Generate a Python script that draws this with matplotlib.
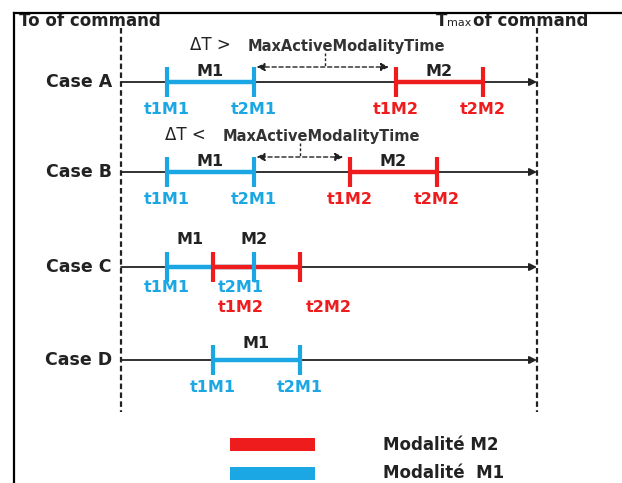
import matplotlib
matplotlib.use("Agg")
import matplotlib.pyplot as plt
from matplotlib.lines import Line2D
from matplotlib.patches import Rectangle

# ---------------- data (time units: T0 = 0, Tmax = 100) ----------------
cases = ["Case A", "Case B", "Case C", "Case D"]
m1_start = [11, 11, 11, 22]
m1_end = [32, 32, 32, 43]
m2_start = [66, 55, 22, None]
m2_end = [87, 76, 43, None]
t_min, t_max = 0, 100
legend_labels = ["Modalité M2", "Modalité  M1"]

BLUE = "#1aa7e4"
RED = "#ee1c1c"
DARK = "#222222"

W, H = 622, 483
fig = plt.figure(figsize=(W / 100, H / 100), dpi=100)
ax = fig.add_axes([0, 0, 1, 1])
ax.set_axis_off()

X0, X1 = 121, 537          # pixel positions of T0 and Tmax
scale = (X1 - X0) / (t_max - t_min)
ax.set_xlim((0 - X0) / scale, (W - X0) / scale)
ax.set_ylim(H, 0)


def px(x):
    """pixel x -> data x (for placing annotations)"""
    return (x - X0) / scale


case_y = [82, 172, 267, 360]

# outer frame (top and left)
fig.add_artist(Line2D([14 / W, 14 / W], [0, 1 - 13 / H], color="black", lw=1.6))
fig.add_artist(Line2D([14 / W, 1], [1 - 13 / H, 1 - 13 / H], color="black", lw=1.6))

# dashed verticals at T0 and Tmax
for t in (t_min, t_max):
    ax.plot([t, t], [28, 412], color=DARK, lw=1.6, ls=(0, (2.5, 1.5)), zorder=1)

# headers
hdr = dict(fontsize=12, fontweight="bold", color=DARK, va="center")
ax.text(px(19), 21.5, "To of command", ha="left", **hdr)
ax.text(px(436), 21.5, "T", ha="left", **hdr)
ax.text(px(447), 23, "max", fontsize=8, color=DARK, ha="left", va="center")
ax.text(px(473), 21.5, "of command", ha="left", **hdr)

tick_h = 15
lab_kw = dict(fontsize=11.5, fontweight="bold", ha="center", va="center")

for i, (name, y) in enumerate(zip(cases, case_y)):
    # timeline with arrow
    ax.annotate("", xy=(t_max, y), xytext=(t_min, y),
                arrowprops=dict(arrowstyle="-|>", color=DARK, lw=1.3,
                                mutation_scale=11, shrinkA=0, shrinkB=0),
                zorder=2)
    ax.text(px(112), y, name, fontsize=12.5, fontweight="bold", color=DARK,
            ha="right", va="center")

    s1, e1 = m1_start[i], m1_end[i]
    s2, e2 = m2_start[i], m2_end[i]

    ax.plot([s1, e1], [y, y], color=BLUE, lw=3.2, solid_capstyle="butt", zorder=3)
    if s2 is not None:
        ax.plot([s2, e2], [y, y], color=RED, lw=3.2, solid_capstyle="butt", zorder=4)

    ticks = [(s1, BLUE), (e1, BLUE)]
    if s2 is not None:
        ticks += [(s2, RED), (e2, RED)]
    for t, c in ticks:
        ax.plot([t, t], [y - tick_h, y + tick_h], color=c, lw=3.0,
                solid_capstyle="butt", zorder=5)

    if name == "Case C":
        ax.text((s1 + s2) / 2, y - 28, "M1", color=DARK, **lab_kw)
        ax.text(e1, y - 28, "M2", color=DARK, **lab_kw)
        ax.text(s1, y + 20, "t1M1", color=BLUE, **lab_kw)
        ax.text(e1 - 3.3, y + 20, "t2M1", color=BLUE, **lab_kw)
        ax.text(s2 + 6.7, y + 40, "t1M2", color=RED, **lab_kw)
        ax.text(e2 + 7, y + 40, "t2M2", color=RED, **lab_kw)
    else:
        ym = (y - 17) if name == "Case D" else (y - 10)
        ax.text((s1 + e1) / 2, ym, "M1", color=DARK, **lab_kw)
        ax.text(s1, y + 28, "t1M1", color=BLUE, **lab_kw)
        ax.text(e1, y + 28, "t2M1", color=BLUE, **lab_kw)
        if s2 is not None:
            ax.text((s2 + e2) / 2, y - 10, "M2", color=DARK, **lab_kw)
            ax.text(s2, y + 28, "t1M2", color=RED, **lab_kw)
            ax.text(e2, y + 28, "t2M2", color=RED, **lab_kw)

# Delta T annotations (cases A and B)
for i, sym, tx in [(0, ">", 190), (1, "<", 165)]:
    y = case_y[i]
    ya = y - 15
    xa, xb = m1_end[i] + 0.6, m2_start[i] - 1.6
    ax.annotate("", xy=(xa, ya), xytext=(xb, ya),
                arrowprops=dict(arrowstyle="<|-|>", color=DARK, lw=1.0,
                                ls=(0, (3, 2)), mutation_scale=12,
                                shrinkA=0, shrinkB=0))
    xm = (xa + xb) / 2 + (0.5 if i == 0 else 0)
    ax.plot([xm, xm], [ya - 14, ya], color=DARK, lw=1.0, ls=(0, (2, 1.5)))
    ax.text(px(tx), y - 37, "\u0394T " + sym, fontsize=12, color=DARK,
            ha="left", va="center")
    ax.text(px(tx + 58), y - 36, "MaxActiveModalityTime", fontsize=10.5,
            fontweight="bold", color="#333333", ha="left", va="center")

# legend
for (lab, c, yr) in [(legend_labels[0], RED, 438), (legend_labels[1], BLUE, 467)]:
    ax.add_patch(Rectangle((px(230), yr), px(315) - px(230), 13,
                           facecolor=c, edgecolor="none"))
    ax.text(px(383), yr + 6.5, lab, fontsize=12, fontweight="bold",
            color=DARK, ha="left", va="center")

fig.savefig("out.png", dpi=100)
